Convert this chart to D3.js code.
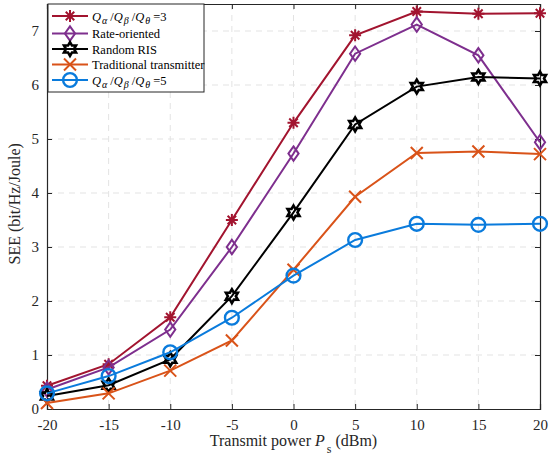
<!DOCTYPE html>
<html>
<head>
<meta charset="utf-8">
<script src="https://cdn.jsdelivr.net/npm/d3@7"></script>
<style>
  body { margin: 0; background: #fff; }
  svg { font-family: "Liberation Serif", "Times New Roman", serif; }
</style>
</head>
<body>
<svg id="main-svg" width="551" height="459"></svg>
<script>
// data
const powers = [-20, -15, -10, -5, 0, 5, 10, 15, 20];
const ratio3 = [0.43, 0.83, 1.70, 3.50, 5.30, 6.92, 7.36, 7.32, 7.33];
const rateOriented = [0.36, 0.77, 1.47, 3.00, 4.73, 6.58, 7.12, 6.55, 4.94];
const randomRIS = [0.24, 0.44, 0.92, 2.09, 3.64, 5.27, 5.97, 6.15, 6.12];
const traditional = [0.11, 0.29, 0.71, 1.27, 2.58, 3.93, 4.74, 4.77, 4.72];
const ratio5 = [0.29, 0.61, 1.05, 1.69, 2.47, 3.13, 3.43, 3.41, 3.43];
const xTicks = [-20, -15, -10, -5, 0, 5, 10, 15, 20];
const yTicks = [0, 1, 2, 3, 4, 5, 6, 7];

const series = [
    { name: "ratio3", values: ratio3, color: "#A2142F", marker: "asterisk" },
    { name: "Rate-oriented", values: rateOriented, color: "#7E2F8E", marker: "diamond" },
    { name: "Random RIS", values: randomRIS, color: "#000000", marker: "hexagram" },
    { name: "Traditional transmitter", values: traditional, color: "#D95319", marker: "cross" },
    { name: "ratio5", values: ratio5, color: "#0A7BDC", marker: "circle" }
];

const margin = { top: 4, right: 11, bottom: 50, left: 47 };
const width = 551 - margin.left - margin.right;
const height = 459 - margin.top - margin.bottom;

const svg = d3.select("#main-svg");
const g = svg.append("g").attr("transform", `translate(${margin.left},${margin.top})`);

const x = d3.scaleLinear().domain([-20, 20]).range([0, width]);
const y = d3.scaleLinear().domain([0, 7.5]).range([height, 0]);

// grid
g.append("g").selectAll("line").data(xTicks.slice(1, -1)).enter().append("line")
    .attr("x1", d => x(d)).attr("x2", d => x(d))
    .attr("y1", 0).attr("y2", height)
    .attr("stroke", "#e3e3e3").attr("stroke-width", 1).attr("stroke-dasharray", "6,5");
g.append("g").selectAll("line").data(yTicks.slice(1)).enter().append("line")
    .attr("x1", 0).attr("x2", width)
    .attr("y1", d => y(d)).attr("y2", d => y(d))
    .attr("stroke", "#e3e3e3").attr("stroke-width", 1).attr("stroke-dasharray", "6,5");

// axes
const xAxis = g.append("g")
    .attr("transform", `translate(0,${height})`)
    .call(d3.axisBottom(x).tickValues(xTicks).tickSize(-5).tickPadding(10).tickFormat(d => String(d)));
const yAxis = g.append("g")
    .call(d3.axisLeft(y).tickValues(yTicks).tickSize(-5).tickPadding(8).tickFormat(d => String(d)));
g.append("g").call(d3.axisTop(x).tickValues(xTicks).tickSize(-5).tickFormat(""));
g.append("g").attr("transform", `translate(${width},0)`)
    .call(d3.axisRight(y).tickValues(yTicks).tickSize(-5).tickFormat(""));
g.selectAll(".domain").attr("stroke", "#262626").attr("stroke-width", 1.2);
g.selectAll(".tick line").attr("stroke", "#262626");
[xAxis, yAxis].forEach(a => a.selectAll("text")
    .attr("font-family", "Liberation Serif, serif")
    .attr("font-size", "15px")
    .attr("fill", "#262626"));

// axis titles
const xt = g.append("text")
    .attr("x", width / 2)
    .attr("y", height + 37)
    .attr("text-anchor", "middle")
    .attr("font-size", "16px")
    .attr("fill", "#262626");
xt.append("tspan").text("Transmit power ");
xt.append("tspan").attr("font-style", "italic").text("P");
xt.append("tspan").attr("font-size", "12px").attr("dy", 7).attr("dx", 2).text("s");
xt.append("tspan").attr("dy", -7).text(" (dBm)");

g.append("text")
    .attr("transform", "rotate(-90)")
    .attr("x", -y(3.8))
    .attr("y", -27)
    .attr("text-anchor", "middle")
    .attr("font-size", "16px")
    .attr("fill", "#262626")
    .text("SEE (bit/Hz/Joule)");

// marker drawing
function drawMarker(sel, type, color, s) {
    if (type === "asterisk") {
        const p = [];
        for (let i = 0; i < 4; i++) {
            const a = i * Math.PI / 4;
            p.push(`M${-s * Math.cos(a)},${-s * Math.sin(a)}L${s * Math.cos(a)},${s * Math.sin(a)}`);
        }
        sel.append("path").attr("d", p.join("")).attr("stroke", color).attr("stroke-width", 2).attr("fill", "none");
    } else if (type === "diamond") {
        sel.append("path").attr("d", `M0,${-s * 1.2}L${s * 0.85},0L0,${s * 1.2}L${-s * 0.85},0Z`)
            .attr("stroke", color).attr("stroke-width", 2).attr("fill", "none");
    } else if (type === "hexagram") {
        const pts = [];
        for (let i = 0; i < 12; i++) {
            const r = i % 2 === 0 ? s * 1.15 : s * 1.15 / Math.sqrt(3);
            const a = -Math.PI / 2 + i * Math.PI / 6;
            pts.push([r * Math.cos(a), r * Math.sin(a)]);
        }
        sel.append("path").attr("d", "M" + pts.map(p => p.join(",")).join("L") + "Z")
            .attr("stroke", color).attr("stroke-width", 2.6).attr("fill", "none");
    } else if (type === "cross") {
        sel.append("path").attr("d", `M${-s},${-s}L${s},${s}M${-s},${s}L${s},${-s}`)
            .attr("stroke", color).attr("stroke-width", 2).attr("fill", "none");
    } else if (type === "circle") {
        sel.append("circle").attr("r", s * 1.15)
            .attr("stroke", color).attr("stroke-width", 2.4).attr("fill", "none");
    }
}

const line = d3.line().x((d, i) => x(powers[i])).y(d => y(d));

series.forEach(s => {
    g.append("path")
        .datum(s.values)
        .attr("d", line)
        .attr("fill", "none")
        .attr("stroke", s.color)
        .attr("stroke-width", 2);
    s.values.forEach((v, i) => {
        const m = g.append("g").attr("transform", `translate(${x(powers[i])},${y(v)})`);
        drawMarker(m, s.marker, s.color, 6);
    });
});

// legend
const legend = g.append("g").attr("transform", "translate(1,0)");
legend.append("rect")
    .attr("x", 0).attr("y", 0)
    .attr("width", 156).attr("height", 88)
    .attr("fill", "#fff").attr("stroke", "#262626").attr("stroke-width", 1);
const rowY = [12, 29.5, 45, 60.5, 76];
series.forEach((s, i) => {
    const row = legend.append("g").attr("transform", `translate(0,${rowY[i]})`);
    row.append("line").attr("x1", 4).attr("x2", 40).attr("y1", 0).attr("y2", 0)
        .attr("stroke", s.color).attr("stroke-width", 2);
    const m = row.append("g").attr("transform", "translate(22,0)");
    drawMarker(m, s.marker, s.color, 6);
    const t = row.append("text").attr("x", 44).attr("y", 4.5)
        .attr("font-size", "12.5px").attr("fill", "#000");
    if (s.name === "ratio3" || s.name === "ratio5") {
        const n = s.name === "ratio3" ? "3" : "5";
        const greek = ["\u03b1", "\u03b2", "\u03b8"];
        greek.forEach((gl, k) => {
            if (k > 0) t.append("tspan").attr("dy", -3).attr("dx", 3).text("/");
            t.append("tspan").attr("font-style", "italic").attr("dx", k > 0 ? 0 : 0).text("Q");
            t.append("tspan").attr("font-size", "10px").attr("font-style", "italic").attr("dy", 3).attr("dx", 1).text(gl);
        });
        t.append("tspan").attr("dy", -3).attr("dx", 3).text("=" + n);
    } else {
        t.text(s.name);
    }
});
</script>
</body>
</html>
